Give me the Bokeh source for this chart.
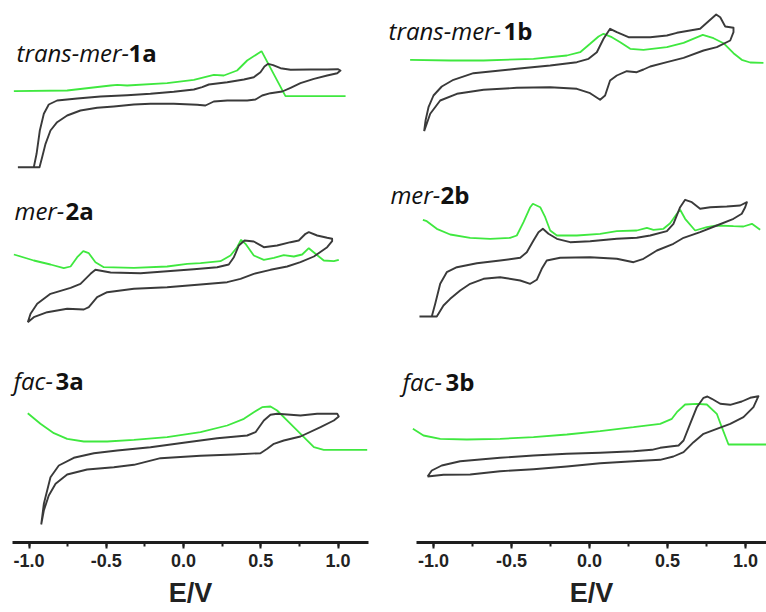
from bokeh.plotting import figure
from bokeh.layouts import row
from bokeh.models import Range1d, SingleIntervalTicker, NumeralTickFormatter, Label
from bokeh.embed import file_html
from bokeh.resources import INLINE

# ---------------- data: (E / V, current in a.u. incl. vertical offset) ----------------
# trans-mer-1a
cv_1a = [(-1.072, 375.3), (-0.969, 375.3), (-0.951, 388.7), (-0.930, 412), (-0.904, 428.7),
         (-0.872, 438), (-0.818, 442), (-0.688, 444), (-0.537, 446), (-0.365, 447.3),
         (-0.214, 448.7), (-0.063, 450.7), (0.067, 453), (0.121, 455.3), (0.164, 458),
         (0.283, 460.3), (0.391, 463), (0.455, 465.3), (0.498, 470.3), (0.524, 476),
         (0.548, 478.7), (0.580, 477.3), (0.628, 474.3), (0.693, 472.7), (0.822, 473),
         (0.930, 473), (0.999, 473.3), (1.016, 472), (0.995, 469.3), (0.930, 467),
         (0.844, 463.7), (0.757, 459.3), (0.693, 454.7), (0.639, 451), (0.563, 449.3),
         (0.509, 447), (0.466, 443), (0.412, 442), (0.283, 442), (0.196, 441),
         (0.142, 437), (0.088, 437.7), (-0.063, 438.7), (-0.214, 438.7), (-0.321, 438),
         (-0.451, 436), (-0.559, 434.7), (-0.667, 432), (-0.753, 427), (-0.818, 420.3),
         (-0.861, 412), (-0.893, 398.7), (-0.915, 385.3), (-0.932, 375.3), (-0.969, 375.3)]
dpv_1a = [(-1.098, 451.3), (-0.753, 452), (-0.472, 457), (-0.429, 457.7), (-0.365, 457),
          (-0.106, 459.3), (0.067, 462.7), (0.196, 467.7), (0.261, 467), (0.347, 472),
          (0.412, 482), (0.505, 491.3), (0.660, 446.3), (1.049, 446.3)]

# trans-mer-1b
cv_1b = [(-1.060, 411.3), (-1.051, 422), (-1.032, 435.3), (-1.000, 447), (-0.947, 456),
         (-0.872, 462.7), (-0.744, 469.3), (-0.466, 473.7), (-0.252, 477), (-0.081, 480.3),
         (-0.006, 483.7), (0.047, 490.3), (0.090, 503.7), (0.132, 513.7), (0.175, 510.3),
         (0.250, 505.3), (0.389, 505.3), (0.496, 507), (0.560, 509.7), (0.709, 513.7),
         (0.763, 521.3), (0.812, 528), (0.838, 525.3), (0.870, 516), (0.923, 514.7),
         (0.923, 510.3), (0.902, 502), (0.816, 495.3), (0.731, 492), (0.603, 484.7),
         (0.496, 480.3), (0.389, 476), (0.346, 473), (0.303, 470.3), (0.239, 471.3),
         (0.175, 467), (0.132, 462), (0.100, 447), (0.068, 442.7), (0.004, 449.3),
         (-0.081, 453.7), (-0.252, 455.3), (-0.466, 454.7), (-0.679, 452.7), (-0.850, 448.7),
         (-0.957, 442), (-1.021, 428.7), (-1.060, 411.3)]
dpv_1b = [(-1.150, 482.7), (-0.893, 482), (-0.679, 482), (-0.359, 483.7), (-0.145, 487),
          (-0.060, 490.3), (0.004, 498.7), (0.058, 506), (0.090, 508.7), (0.143, 505.3),
          (0.197, 500.3), (0.261, 493.7), (0.346, 492.7), (0.496, 495.3), (0.603, 499.7),
          (0.726, 507.7), (0.795, 504.3), (0.859, 499.3), (0.923, 489.3), (0.976, 482.7),
          (1.030, 480), (1.115, 479.7)]

# mer-2a
cv_2a = [(-1.008, 220.3), (-0.990, 228.7), (-0.947, 238.7), (-0.861, 248.7), (-0.731, 254.7),
         (-0.667, 258.7), (-0.602, 268.7), (-0.570, 272.7), (-0.472, 270), (-0.278, 269.3),
         (-0.106, 271.3), (0.067, 273.3), (0.218, 275.3), (0.293, 278), (0.326, 285.3),
         (0.358, 297), (0.395, 302), (0.455, 301), (0.520, 295.3), (0.606, 297),
         (0.693, 300.3), (0.746, 302), (0.790, 308.7), (0.811, 310.3), (0.865, 307),
         (0.930, 304.7), (0.962, 303.7), (0.962, 301.3), (0.930, 295.3), (0.844, 286),
         (0.757, 280.3), (0.671, 276), (0.563, 272.7), (0.455, 268.7), (0.369, 263.7),
         (0.283, 260.3), (0.110, 258), (-0.106, 255.3), (-0.321, 253.7), (-0.494, 250.3),
         (-0.559, 245.3), (-0.613, 235.3), (-0.645, 233), (-0.753, 233.7), (-0.882, 230.3),
         (-0.969, 225.3), (-1.008, 220.3)]
dpv_2a = [(-1.098, 288), (-0.969, 282), (-0.861, 278), (-0.775, 274.3), (-0.731, 276),
          (-0.688, 285.3), (-0.649, 291.3), (-0.613, 289.3), (-0.570, 280.3), (-0.516, 275.3),
          (-0.321, 274.7), (-0.106, 276), (0.024, 278.7), (0.110, 279.3), (0.239, 281.3),
          (0.304, 287), (0.347, 295.3), (0.373, 302.7), (0.401, 298.7), (0.455, 287),
          (0.520, 282.7), (0.585, 284.7), (0.649, 287.3), (0.714, 286), (0.768, 288),
          (0.811, 294.3), (0.854, 288.7), (0.908, 282), (0.973, 281.3), (1.005, 282.7)]

# mer-2b
cv_2b = [(-1.090, 226), (-1.011, 226), (-0.989, 238.7), (-0.957, 258.7), (-0.915, 270.3),
         (-0.850, 275.3), (-0.722, 279.3), (-0.573, 282), (-0.444, 284.7), (-0.402, 290.3),
         (-0.359, 302), (-0.327, 310.3), (-0.299, 313.7), (-0.263, 308.7), (-0.209, 303.7),
         (-0.124, 300.3), (0.004, 301.3), (0.175, 303.7), (0.303, 304.7), (0.389, 307),
         (0.496, 311.3), (0.538, 318.7), (0.581, 335.3), (0.613, 342.7), (0.656, 340.3),
         (0.709, 333.7), (0.774, 335.3), (0.880, 336), (0.966, 337), (1.009, 340.3),
         (0.998, 335.3), (0.976, 328.7), (0.923, 323.7), (0.816, 317), (0.709, 310.3),
         (0.603, 304.7), (0.538, 298.7), (0.432, 292), (0.346, 283.7), (0.282, 280.3),
         (0.175, 283.7), (0.004, 285.3), (-0.188, 284.7), (-0.274, 282), (-0.306, 273.7),
         (-0.338, 262.7), (-0.380, 258.7), (-0.444, 262), (-0.573, 265.3), (-0.679, 263.7),
         (-0.765, 258.7), (-0.829, 252), (-0.893, 243.7), (-0.936, 237), (-0.979, 226),
         (-1.011, 226)]
dpv_2b = [(-1.068, 322.7), (-1.043, 321.3), (-0.979, 313.7), (-0.893, 308), (-0.765, 304.7),
          (-0.637, 303.7), (-0.509, 304.7), (-0.466, 307), (-0.423, 320.3), (-0.380, 335.3),
          (-0.363, 338.7), (-0.316, 335.3), (-0.284, 325.3), (-0.252, 312), (-0.209, 307),
          (-0.081, 307), (0.068, 308.7), (0.175, 311.3), (0.303, 312), (0.368, 314.7),
          (0.410, 312.7), (0.474, 313.7), (0.517, 319.3), (0.560, 328.7), (0.581, 332.7),
          (0.613, 323.7), (0.677, 312), (0.752, 315.3), (0.816, 317), (0.923, 316.3),
          (0.987, 316), (1.041, 318.7), (1.094, 312.7)]

# fac-3a
cv_3a = [(-0.921, 18), (-0.904, 38.7), (-0.861, 65.3), (-0.807, 77), (-0.710, 84.7),
         (-0.580, 89.3), (-0.429, 92), (-0.214, 95.3), (0.024, 100.3), (0.218, 104.3),
         (0.412, 107), (0.466, 110.3), (0.520, 122), (0.563, 127.7), (0.606, 128.7),
         (0.757, 127), (0.865, 128.7), (0.995, 128.7), (1.005, 126), (0.973, 122),
         (0.887, 115.3), (0.757, 106), (0.649, 102), (0.585, 98.7), (0.542, 93.7),
         (0.498, 89.3), (0.326, 88), (0.110, 86.7), (-0.149, 84.3), (-0.321, 77.7),
         (-0.451, 75.3), (-0.624, 73), (-0.753, 68), (-0.828, 58.7), (-0.872, 47),
         (-0.904, 32), (-0.921, 18)]
dpv_3a = [(-1.008, 129.3), (-0.926, 118.7), (-0.839, 109.3), (-0.753, 103.7), (-0.645, 101),
          (-0.494, 101), (-0.321, 102.7), (-0.106, 105.3), (0.110, 110.3), (0.283, 117),
          (0.391, 123.7), (0.455, 130.3), (0.509, 135.3), (0.563, 136), (0.606, 132),
          (0.693, 118.7), (0.779, 105.3), (0.844, 95.3), (0.908, 92.7), (0.973, 92.7),
          (1.189, 92.7)]

# fac-3b
cv_3b = [(-1.038, 66), (-1.011, 72), (-0.947, 77), (-0.829, 81.3), (-0.573, 84.7),
         (-0.359, 87), (-0.145, 88.7), (0.068, 89.7), (0.282, 91.3), (0.400, 92.7),
         (0.453, 94.7), (0.517, 96), (0.571, 97), (0.603, 102), (0.645, 118.7),
         (0.688, 135.3), (0.731, 144.7), (0.756, 146), (0.784, 143.7), (0.838, 138.7),
         (0.902, 137.7), (0.976, 141), (1.030, 144.7), (1.083, 146.3), (1.051, 135.3),
         (0.987, 125.3), (0.902, 118.7), (0.816, 113.7), (0.731, 108.7), (0.667, 100.3),
         (0.603, 90.3), (0.538, 86), (0.453, 82.7), (0.282, 81.3), (0.068, 79.3),
         (-0.145, 76), (-0.359, 73.3), (-0.573, 71.3), (-0.765, 68), (-0.936, 67.7),
         (-1.038, 66)]
dpv_3b = [(-1.132, 113.7), (-1.064, 107), (-0.957, 103.7), (-0.786, 103), (-0.573, 103.7),
          (-0.359, 105.3), (-0.145, 108), (0.068, 111.3), (0.282, 115.3), (0.453, 118.7),
          (0.528, 123.7), (0.560, 130.3), (0.613, 138), (0.688, 138.7), (0.752, 138),
          (0.816, 128.7), (0.848, 115.3), (0.891, 98), (1.137, 98)]

# panel labels: (italic part, bold part)
labels_left = [("trans-mer-", "1a"), ("mer-", "2a"), ("fac-", "3a")]
labels_right = [("trans-mer-", "1b"), ("mer-", "2b"), ("fac-", "3b")]
x_label = "E/V"

# ---------------- styling / layout ----------------
CV_COLOR = "#3a3a3a"
DPV_COLOR = "#3fe83f"
LABEL_FONT = "Open Sans"
LABEL_SIZE = "24px"


def make_fig(xr, bounds):
    p = figure(width=383, height=612, x_range=Range1d(*xr), y_range=Range1d(-70, 542),
               output_backend="svg", toolbar_location=None, y_axis_location=None,
               min_border=0, min_border_left=0, min_border_right=0,
               min_border_top=0, min_border_bottom=0)
    p.outline_line_color = None
    p.grid.visible = False
    p.background_fill_color = "white"
    p.border_fill_color = "white"
    ax = p.xaxis[0]
    ax.fixed_location = 0
    ax.bounds = bounds
    ax.ticker = SingleIntervalTicker(interval=0.5, num_minor_ticks=2)
    ax.formatter = NumeralTickFormatter(format="0.0")
    ax.axis_line_width = 3
    ax.axis_line_color = "#1e1e1e"
    ax.major_tick_out = 6
    ax.major_tick_in = 0
    ax.major_tick_line_width = 2
    ax.major_tick_line_color = "#1e1e1e"
    ax.minor_tick_out = 4
    ax.minor_tick_in = 0
    ax.minor_tick_line_width = 2
    ax.minor_tick_line_color = "#1e1e1e"
    ax.major_label_text_font = "Liberation Sans"
    ax.major_label_text_font_style = "bold"
    ax.major_label_text_font_size = "18px"
    ax.major_label_text_color = "#222222"
    ax.major_label_standoff = 5
    ax.axis_label = x_label
    ax.axis_label_text_font = "Liberation Sans"
    ax.axis_label_text_font_style = "bold"
    ax.axis_label_text_font_size = "27px"
    ax.axis_label_text_color = "#222222"
    ax.axis_label_standoff = 8
    return p


def draw(p, cv, dpv):
    p.line([e for e, _ in dpv], [i for _, i in dpv], line_color=DPV_COLOR, line_width=1.8)
    p.line([e for e, _ in cv], [i for _, i in cv], line_color=CV_COLOR, line_width=1.9,
           line_join="round")


def add_label(p, x_it, x_bd, y, parts):
    it, bd = parts
    p.add_layout(Label(x=x_it, y=y, text=it, text_font=LABEL_FONT, text_font_style="italic",
                       text_font_size=LABEL_SIZE, text_color="#111111",
                       text_baseline="alphabetic", text_align="left"))
    p.add_layout(Label(x=x_bd, y=y, text=bd, text_font=LABEL_FONT, text_font_style="bold",
                       text_font_size=LABEL_SIZE, text_color="#111111",
                       text_baseline="alphabetic", text_align="left"))


left = make_fig((-1.1845, 1.2945), (-1.107, 1.197))
right = make_fig((-1.3205, 1.1346), (-1.109, 1.1346))

draw(left, cv_1a, dpv_1a)
draw(left, cv_2a, dpv_2a)
draw(left, cv_3a, dpv_3a)
draw(right, cv_1b, dpv_1b)
draw(right, cv_2b, dpv_2b)
draw(right, cv_3b, dpv_3b)

add_label(left, -1.081, -0.356, 490, labels_left[0])
add_label(left, -1.094, -0.764, 332, labels_left[1])
add_label(left, -1.100, -0.828, 162, labels_left[2])
add_label(right, -1.288, -0.551, 512, labels_right[0])
add_label(right, -1.276, -0.955, 348, labels_right[1])
add_label(right, -1.199, -0.923, 161, labels_right[2])

layout = row(left, right)
open("out.html", "w").write(file_html(layout, INLINE))
